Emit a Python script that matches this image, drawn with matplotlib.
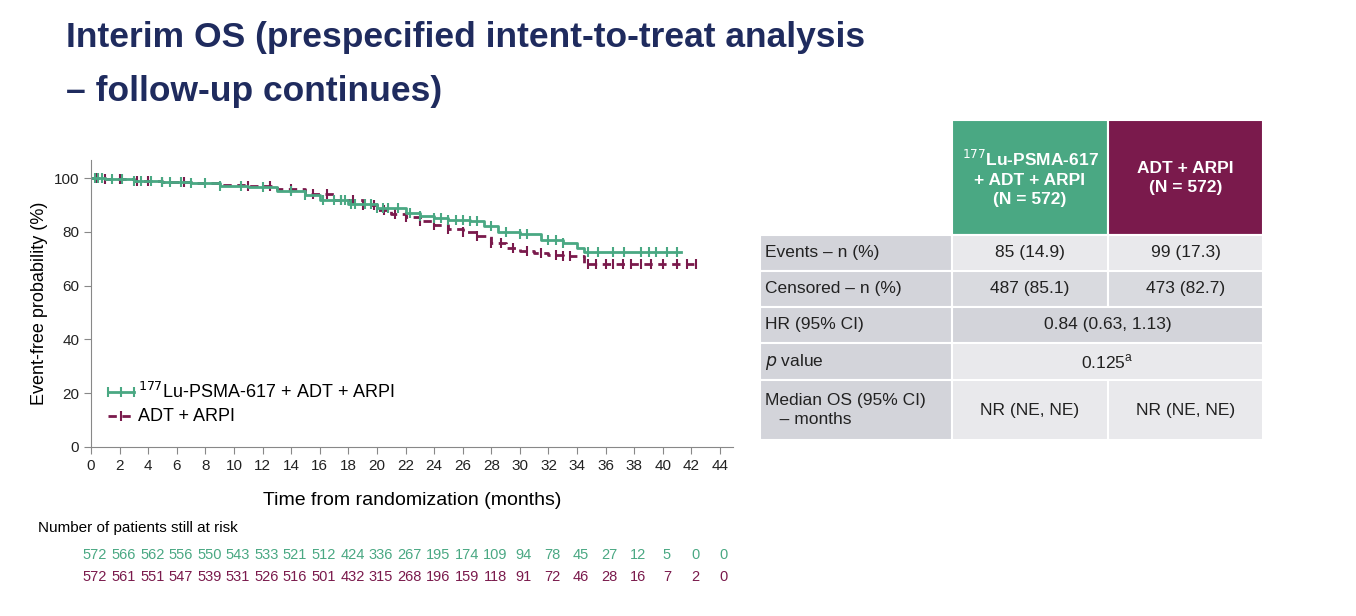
import numpy as np
import matplotlib.pyplot as plt
from matplotlib.patches import Rectangle

plt.rcParams['font.family'] = ['Liberation Sans', 'DejaVu Sans']

GREEN = '#4aa883'
PURPLE = '#7a1a4c'
NAVY = '#1f2b5e'

# KM step knots (months, %)
lu_t = [0, 1, 3, 5, 7, 9, 11, 13, 15, 16, 18, 20, 22, 23, 24, 25, 26.5, 27.5, 28.5, 30, 31.5, 33, 34, 34.5, 41.3]
lu_s = [100, 99.5, 99, 98.5, 98, 97, 96.5, 95, 93.5, 92, 90.5, 89, 87, 86, 85, 84.5, 84, 82, 80, 79, 77, 76, 74, 72.5, 72.5]
adt_t = [0, 1, 3, 5, 7, 9, 11, 13, 15, 17, 19, 20, 21, 22, 23, 24, 25, 26, 27, 28, 29, 30, 31, 32, 33, 34, 34.5, 42.5]
adt_s = [100, 99.5, 99, 98.5, 98, 97.5, 97, 96, 94, 92, 90, 88, 86.5, 85.5, 84, 82.5, 81, 80, 78.5, 76, 74, 73, 72, 71.5, 71, 71, 68, 68]
lu_cens = [0.3, 0.5, 0.8, 1.5, 2.2, 3, 3.5, 4.2, 5, 5.5, 6.3, 7, 8, 9, 10.5, 12, 14, 15, 16.2, 17, 17.5, 17.8, 18.2, 18.5, 19.2,
           19.6, 20, 20.4, 20.8, 21.5, 22.3, 23, 24, 24.5, 25, 25.5, 26, 26.5, 27, 28, 29, 30, 30.5, 32, 32.5, 33,
           34.8, 35.5, 36.5, 37.3, 38.5, 39, 39.5, 40.3, 41]
adt_cens = [0.4, 1, 2, 3.2, 4, 5, 6.5, 11, 12.5, 14, 15.5, 16.5, 17.5, 18.3, 19, 19.8, 20.5, 21.3, 22, 23, 24, 25, 26, 27, 28,
            28.7, 29.5, 30.5, 31.5, 32.5, 33, 33.5, 34.8, 35.3, 36, 36.5, 37.2, 37.8, 38.5, 39.2, 40, 41, 41.7, 42.3]

ticks = list(range(0, 46, 2))
risk_lu = [572, 566, 562, 556, 550, 543, 533, 521, 512, 424, 336, 267, 195, 174, 109, 94, 78, 45, 27, 12, 5, 0, 0]
risk_adt = [572, 561, 551, 547, 539, 531, 526, 516, 501, 432, 315, 268, 196, 159, 118, 91, 72, 46, 28, 16, 7, 2, 0]

row_labels = ['Events – n (%)', 'Censored – n (%)', 'HR (95% CI)', '$p$ value', 'Median OS (95% CI)\n   – months']
lu_vals = ['85 (14.9)', '487 (85.1)', None, None, 'NR (NE, NE)']
adt_vals = ['99 (17.3)', '473 (82.7)', None, None, 'NR (NE, NE)']
shared_vals = [None, None, '0.84 (0.63, 1.13)', '0.125$^\\mathregular{a}$', None]

W, H = 1356, 616
fig = plt.figure(figsize=(W / 100, H / 100), dpi=100)

def px(x, y):
    return x / W, 1 - y / H

fig.text(*px(66, 38), 'Interim OS (prespecified intent-to-treat analysis', fontsize=25.5,
         fontweight='bold', color=NAVY, va='center')
fig.text(*px(66, 92), '– follow-up continues)', fontsize=25.5, fontweight='bold', color=NAVY, va='center')

# KM axes
x0, x1, ytop, ybot = 91, 733, 160, 447
ax = fig.add_axes([x0 / W, 1 - ybot / H, (x1 - x0) / W, (ybot - ytop) / H])
xmax = 44 * (x1 - x0) / (720 - x0)
ymax = 100 * (ybot - ytop) / (ybot - 178)
ax.set_xlim(0, xmax)
ax.set_ylim(0, ymax)
for s in ['top', 'right']:
    ax.spines[s].set_visible(False)
for s in ['left', 'bottom']:
    ax.spines[s].set_color('#888888')
ax.set_xticks(ticks)
ax.set_yticks(range(0, 101, 20))
ax.tick_params(colors='#888888', labelcolor='#222222', labelsize=11, length=5)
ax.set_xlabel('Time from randomization (months)', fontsize=14, labelpad=14)
ax.set_ylabel('Event-free probability (%)', fontsize=13)

def surv_at(ts, ss, t):
    i = np.searchsorted(ts, t, side='right') - 1
    return ss[max(i, 0)]

ax.step(adt_t, adt_s, where='post', color=PURPLE, lw=2, ls=(0, (3, 2)))
ax.plot(adt_cens, [surv_at(adt_t, adt_s, t) for t in adt_cens], ls='none', marker='|', ms=6.5, mew=1.5, color=PURPLE)
ax.step(lu_t, lu_s, where='post', color=GREEN, lw=2)
ax.plot(lu_cens, [surv_at(lu_t, lu_s, t) for t in lu_cens], ls='none', marker='|', ms=6.5, mew=1.5, color=GREEN)

ax.plot([1.2, 3.0], [20.5, 20.5], color=GREEN, lw=2, marker='|', ms=7, mew=1.5, markevery=[0, 1])
ax.plot([2.1], [20.5], color=GREEN, marker='|', ms=7, mew=1.5)
ax.text(3.3, 20.5, '$^{177}$Lu-PSMA-617 + ADT + ARPI', fontsize=13, va='center')
ax.plot([1.2, 3.0], [11.5, 11.5], color=PURPLE, lw=2, ls=(0, (3, 2)))
ax.plot([2.1], [11.5], color=PURPLE, marker='|', ms=7, mew=1.5)
ax.text(3.3, 11.5, 'ADT + ARPI', fontsize=13, va='center')

# risk table
fig.text(*px(38, 528), 'Number of patients still at risk', fontsize=11, va='center')
for t, a, b in zip(ticks, risk_lu, risk_adt):
    xp = x0 + t * (720 - x0) / 44 + 4
    fig.text(*px(xp, 555), str(a), fontsize=10.5, color=GREEN, ha='center', va='center')
    fig.text(*px(xp, 577), str(b), fontsize=10.5, color=PURPLE, ha='center', va='center')

# outcome table
cx = [760, 952, 1108, 1263]
ry = [235, 271, 307, 343, 380, 440]

def rect(xa, ya, xb, yb, color):
    fig.patches.append(Rectangle(px(xa, yb), (xb - xa) / W, (yb - ya) / H,
                                 transform=fig.transFigure, facecolor=color, edgecolor='white', lw=1.5))

rect(cx[1], 120, cx[2], ry[0], GREEN)
rect(cx[2], 120, cx[3], ry[0], PURPLE)
fig.text(*px((cx[1] + cx[2]) / 2, 178), '$^{177}$Lu-PSMA-617\n+ ADT + ARPI\n(N = 572)', color='white',
         fontsize=12.5, fontweight='bold', ha='center', va='center', linespacing=1.3)
fig.text(*px((cx[2] + cx[3]) / 2, 178), 'ADT + ARPI\n(N = 572)', color='white',
         fontsize=12.5, fontweight='bold', ha='center', va='center', linespacing=1.3)
for i, lab in enumerate(row_labels):
    ya, yb = ry[i], ry[i + 1]
    ym = (ya + yb) / 2
    rect(cx[0], ya, cx[1], yb, '#d3d4da')
    fig.text(*px(cx[0] + 5, ym), lab, fontsize=12.5, va='center', color='#222222', linespacing=1.3)
    if shared_vals[i] is not None:
        rect(cx[1], ya, cx[3], yb, '#d3d4da' if i % 2 == 0 else '#e9e9ec')
        fig.text(*px((cx[1] + cx[3]) / 2, ym), shared_vals[i], fontsize=12.5, ha='center', va='center', color='#222222')
    else:
        col = '#e9e9ec' if i % 2 == 0 else '#d9dadf'
        rect(cx[1], ya, cx[2], yb, col)
        rect(cx[2], ya, cx[3], yb, col)
        fig.text(*px((cx[1] + cx[2]) / 2, ym), lu_vals[i], fontsize=12.5, ha='center', va='center', color='#222222')
        fig.text(*px((cx[2] + cx[3]) / 2, ym), adt_vals[i], fontsize=12.5, ha='center', va='center', color='#222222')

fig.savefig('out.png', dpi=100)
